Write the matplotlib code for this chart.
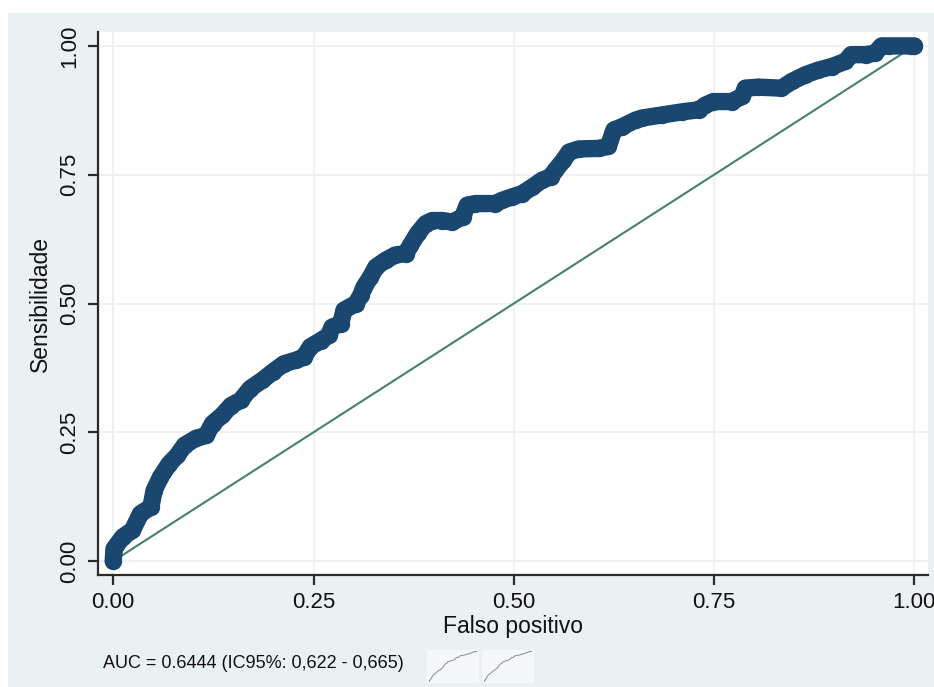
""" plot.py """
import matplotlib.pyplot as plt
from matplotlib.patches import Rectangle

plt.rcParams['font.family'] = ['Liberation Sans', 'DejaVu Sans']

# ROC curve
fpr = [0.0, 0.001, 0.012, 0.024, 0.034, 0.047, 0.051, 0.059, 0.070, 0.080,
       0.089, 0.103, 0.116, 0.124, 0.136, 0.147, 0.159, 0.171, 0.186, 0.199,
       0.213, 0.228, 0.238, 0.246, 0.259, 0.269, 0.273, 0.284, 0.288, 0.303,
       0.309, 0.313, 0.321, 0.328, 0.340, 0.352, 0.365, 0.371, 0.380, 0.390,
       0.398, 0.411, 0.423, 0.436, 0.442, 0.452, 0.477, 0.485, 0.498, 0.510,
       0.523, 0.535, 0.546, 0.552, 0.562, 0.569, 0.581, 0.606, 0.618, 0.625,
       0.635, 0.652, 0.660, 0.685, 0.710, 0.731, 0.739, 0.749, 0.772, 0.785,
       0.789, 0.805, 0.834, 0.847, 0.864, 0.880, 0.897, 0.914, 0.921, 0.939,
       0.951, 0.959, 0.968, 0.996, 1.0]
sens = [0.0, 0.024, 0.047, 0.060, 0.092, 0.105, 0.137, 0.163, 0.189, 0.205,
        0.225, 0.238, 0.244, 0.267, 0.283, 0.302, 0.312, 0.335, 0.351, 0.367,
        0.383, 0.390, 0.396, 0.416, 0.428, 0.438, 0.454, 0.461, 0.487, 0.500,
        0.516, 0.532, 0.551, 0.571, 0.584, 0.594, 0.597, 0.613, 0.636, 0.655,
        0.661, 0.661, 0.658, 0.668, 0.691, 0.694, 0.694, 0.700, 0.707, 0.713,
        0.726, 0.739, 0.746, 0.759, 0.778, 0.794, 0.800, 0.801, 0.805, 0.837,
        0.843, 0.856, 0.860, 0.866, 0.872, 0.876, 0.885, 0.892, 0.892, 0.902,
        0.918, 0.920, 0.918, 0.931, 0.944, 0.953, 0.960, 0.970, 0.983, 0.983,
        0.986, 1.0, 1.0, 1.0, 1.0]
ref_line = [0.0, 1.0]
ticks = [0.0, 0.25, 0.5, 0.75, 1.0]
tick_labels = ['0.00', '0.25', '0.50', '0.75', '1.00']
auc_text = 'AUC = 0.6444 (IC95%: 0,622 - 0,665)'

navy = '#1a476f'
green = '#46806f'
bg = '#eaf1f3'

fig = plt.figure(figsize=(9.34, 6.87), dpi=100)
fig.patches.append(Rectangle((8 / 934, 0), 1, 674 / 687, transform=fig.transFigure,
                             facecolor=bg, edgecolor='none', zorder=-5))

ax = fig.add_axes([98 / 934, 112 / 687, 830 / 934, 543 / 687])
ax.set_facecolor('white')
ax.plot(ref_line, ref_line, color=green, lw=1.5, zorder=2)
ax.plot(fpr, sens, color=navy, lw=12.5, marker='o', ms=12.5, mew=0,
        solid_joinstyle='round', solid_capstyle='round', zorder=3)

ax.set_xlim(-0.019, 1.017)
ax.set_ylim(-0.027, 1.027)
ax.set_xticks(ticks)
ax.set_xticklabels(tick_labels)
ax.set_yticks(ticks)
ax.set_yticklabels(tick_labels, rotation=90, va='center')
ax.grid(True, color='#eef1f2', lw=1.3)
ax.set_axisbelow(True)
for side in ['top', 'right']:
    ax.spines[side].set_visible(False)
for side in ['left', 'bottom']:
    ax.spines[side].set_color('#2b2b2b')
    ax.spines[side].set_linewidth(1.6)
ax.tick_params(axis='both', length=7, width=1.6, color='#2b2b2b',
               labelsize=16, labelcolor='#111111')
ax.tick_params(axis='x', pad=5)
ax.tick_params(axis='y', pad=6)
ax.set_xlabel('Falso positivo', fontsize=16.5, labelpad=2, color='#111111')
ax.set_ylabel('Sensibilidade', fontsize=16.5, labelpad=5, color='#111111')

fig.text(103 / 934, 24 / 687, auc_text, fontsize=13, va='center', color='#111111')

# two tiny thumbnails next to the AUC text
for left in [427, 482]:
    th = fig.add_axes([left / 934, 4 / 687, 52 / 934, 33 / 687])
    th.set_facecolor('#f5f8f9')
    th.plot(fpr, sens, color='#8a8f93', lw=0.7)
    th.set_xlim(-0.05, 1.05)
    th.set_ylim(-0.05, 1.05)
    th.set_xticks([])
    th.set_yticks([])
    for s in th.spines.values():
        s.set_visible(False)

plt.savefig('out.png', dpi=100, facecolor='white')
